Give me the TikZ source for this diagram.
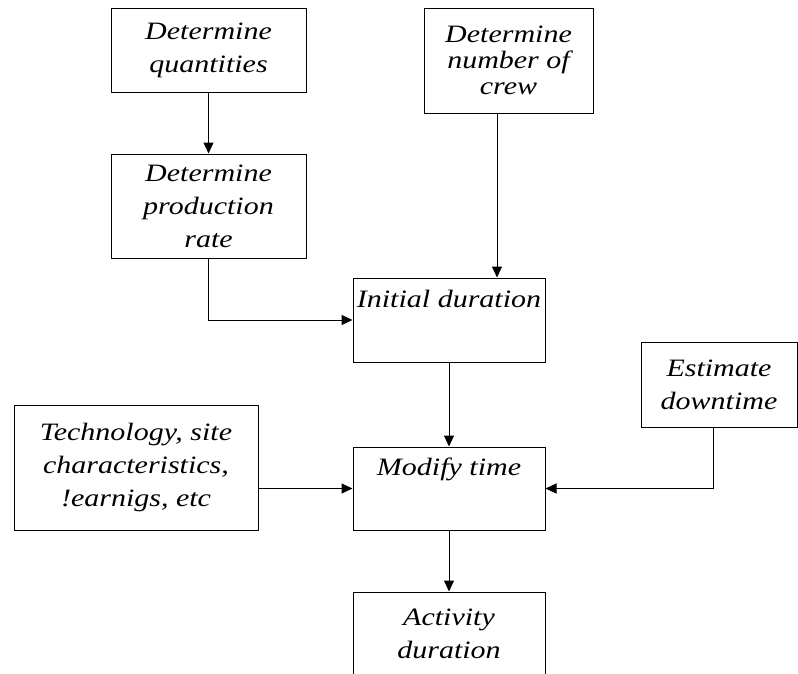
\documentclass[tikz,border=0pt]{standalone}
\usepackage{fontspec}
\newfontfamily\boxfont{Liberation Serif Italic}[FakeStretch=1.2]
\usetikzlibrary{arrows.meta}
\begin{document}
\begin{tikzpicture}[x=1pt,y=-1pt,
  box/.style={draw, line width=1pt, inner sep=0pt, align=center,
    font=\fontsize{25}{33}\boxfont},
  arr/.style={-{Triangle[length=11pt,width=10pt]}, line width=1pt}]
\useasboundingbox (0,0) rectangle (798,673);
\clip (0,0) rectangle (798,673);
\node[box, minimum width=195pt, minimum height=84pt] (quant) at (208.5,50) {Determine\\quantities};
\node[box, minimum width=195pt, minimum height=104pt] (prod) at (208.5,206) {Determine\\production\\rate};
\node[box, minimum width=169pt, minimum height=105pt, font=\fontsize{25}{26}\boxfont] (crew) at (508.5,60.5) {Determine\\number of\\crew};
\node[box, minimum width=192pt, minimum height=84pt] (init) at (449,320) {Initial duration\\\strut};
\node[box, minimum width=192pt, minimum height=83pt] (modify) at (449,488.5) {Modify time\\\strut};
\node[box, minimum width=244pt, minimum height=125pt] (tech) at (136,467.5) {Technology, site\\characteristics,\\!earnigs, etc};
\node[box, minimum width=156pt, minimum height=85pt] (est) at (719,384.5) {Estimate\\downtime};
\node[box, minimum width=192pt, minimum height=84pt] (act) at (449,634) {Activity\\duration};
\draw[arr] (quant) -- (prod);
\draw[arr] (prod.south) |- (init.west);
\draw[arr] ([xshift=-11.5pt]crew.south) -- ([xshift=48pt]init.north);
\draw[arr] (init) -- (modify);
\draw[arr] (tech.east |- modify.west) -- (modify.west);
\draw[arr] ([xshift=-6pt]est.south) |- (modify.east);
\draw[arr] (modify) -- (act);
\end{tikzpicture}
\end{document}
